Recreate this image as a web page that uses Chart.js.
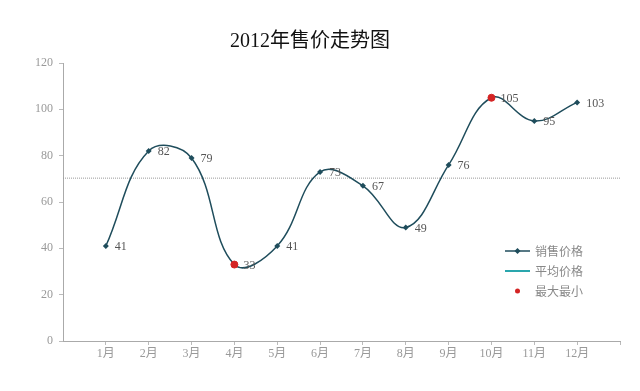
<!DOCTYPE html>
<html>
<head>
<meta charset="utf-8">
<script src="https://cdn.jsdelivr.net/npm/chart.js@4"></script>
<style>
  html, body { margin: 0; padding: 0; background: #fff; }
  #wrap { width: 640px; height: 391px; }
</style>
</head>
<body>
<div id="wrap"><canvas id="chart"></canvas></div>
<script>
const months = ["1月", "2月", "3月", "4月", "5月", "6月", "7月", "8月", "9月", "10月", "11月", "12月"]
const prices = [41, 82, 79, 33, 41, 73, 67, 49, 76, 105, 95, 103]
const avgPrice = 70.3
const extremes = [null, null, null, 33, null, null, null, null, null, 105, null, null]
const yTicks = [0, 20, 40, 60, 80, 100, 120]

const serif = "'Liberation Serif', 'Noto Sans CJK SC', serif"
const lineColor = "#1f4d5c"
const avgLegendColor = "#2aa6ad"
const redColor = "#d42424"

// value labels to the right of each point
const valueLabels = {
  id: "valueLabels",
  afterDatasetsDraw(chart) {
    const ctx = chart.ctx
    const meta = chart.getDatasetMeta(0)
    ctx.save()
    ctx.font = "12px " + serif
    ctx.fillStyle = "#555"
    ctx.textAlign = "left"
    ctx.textBaseline = "middle"
    meta.data.forEach((pt, i) => {
      ctx.fillText(String(prices[i]), pt.x + 9, pt.y + 1)
    })
    ctx.restore()
  }
}

// legend drawn inside the plot area, lower right
const insideLegend = {
  id: "insideLegend",
  afterDraw(chart) {
    const ctx = chart.ctx
    const x0 = 505
    const rows = [251, 271, 291]
    ctx.save()
    ctx.font = "12px 'Noto Sans CJK SC', sans-serif"
    ctx.textBaseline = "middle"
    ctx.textAlign = "left"
    chart.data.datasets.forEach((ds, i) => {
      const y = rows[i]
      if (i === 0) {
        ctx.strokeStyle = lineColor
        ctx.lineWidth = 1.5
        ctx.beginPath(); ctx.moveTo(x0, y); ctx.lineTo(x0 + 25, y); ctx.stroke()
        ctx.fillStyle = lineColor
        ctx.beginPath()
        ctx.moveTo(x0 + 12.5, y - 3); ctx.lineTo(x0 + 15.5, y); ctx.lineTo(x0 + 12.5, y + 3); ctx.lineTo(x0 + 9.5, y)
        ctx.closePath(); ctx.fill()
      } else if (i === 1) {
        ctx.strokeStyle = avgLegendColor
        ctx.lineWidth = 2
        ctx.beginPath(); ctx.moveTo(x0, y); ctx.lineTo(x0 + 25, y); ctx.stroke()
      } else {
        ctx.fillStyle = redColor
        ctx.beginPath(); ctx.arc(x0 + 12.5, y, 2.5, 0, Math.PI * 2); ctx.fill()
      }
      ctx.fillStyle = "#888"
      ctx.fillText(ds.label, x0 + 30, y)
    })
    ctx.restore()
  }
}

new Chart(document.getElementById("chart"), {
  type: "line",
  data: {
    datasets: [
      {
        label: "销售价格",
        data: prices.map((v, i) => ({ x: i + 1, y: v })),
        borderColor: lineColor,
        borderWidth: 1.5,
        tension: 0.4,
        pointStyle: "rectRot",
        pointRadius: 3,
        pointBackgroundColor: lineColor,
        pointBorderColor: lineColor,
        pointBorderWidth: 0,
        order: 2
      },
      {
        label: "平均价格",
        data: [{ x: 0, y: avgPrice }, { x: 13, y: avgPrice }],
        borderColor: "#999",
        borderWidth: 1,
        borderDash: [1, 1],
        pointRadius: 0,
        order: 3
      },
      {
        label: "最大最小",
        data: extremes.map((v, i) => ({ x: i + 1, y: v })),
        showLine: false,
        pointStyle: "circle",
        pointRadius: 3.5,
        pointBackgroundColor: redColor,
        pointBorderColor: redColor,
        order: 1
      }
    ]
  },
  options: {
    responsive: true,
    maintainAspectRatio: false,
    animation: false,
    layout: { padding: { top: 0, right: 20, bottom: 0, left: 0 } },
    plugins: {
      legend: { display: false },
      tooltip: { enabled: false },
      title: {
        display: true,
        text: "2012年售价走势图",
        color: "#111",
        font: { size: 20, family: serif, weight: "normal" },
        padding: { top: 30, bottom: 9 }
      }
    },
    scales: {
      x: {
        type: "linear",
        min: 0,
        max: 13,
        afterBuildTicks(scale) {
          scale.ticks = months.map((m, i) => ({ value: i + 1 })).concat([{ value: 13 }])
        },
        afterFit(scale) { scale.height = 50 },
        ticks: {
          callback: (v) => months[v - 1] || "",
          color: "#999",
          font: { size: 12, family: serif },
          maxRotation: 0,
          autoSkip: false,
          padding: 2
        },
        grid: { drawOnChartArea: false, tickLength: 4, color: "#bbb" },
        border: { color: "#aaa" }
      },
      y: {
        min: 0,
        max: 120,
        afterBuildTicks(scale) {
          scale.ticks = yTicks.map((v) => ({ value: v }))
        },
        afterFit(scale) { scale.width = 63 },
        ticks: {
          color: "#999",
          font: { size: 12, family: serif },
          padding: 6
        },
        grid: { drawOnChartArea: false, tickLength: 4, color: "#bbb" },
        border: { color: "#aaa" }
      }
    }
  },
  plugins: [valueLabels, insideLegend]
})
</script>
</body>
</html>
